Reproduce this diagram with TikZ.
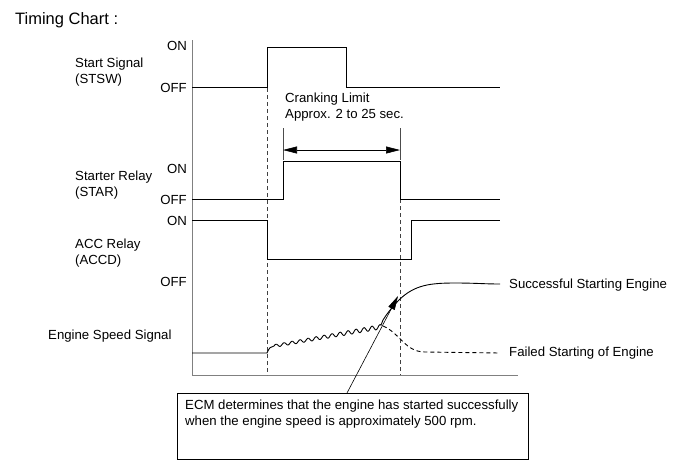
\documentclass[tikz,border=0pt]{standalone}
\usepackage{fontspec}
\setmainfont{Liberation Sans}
\usetikzlibrary{arrows.meta}
\begin{document}
\begin{tikzpicture}[x=1pt,y=-1pt,
  sig/.style={line width=0.9pt, black},
  ax/.style={line width=0.9pt, black!50},
  dsh/.style={dash pattern=on 4pt off 3pt, line width=0.7pt, black!75},
  lbl/.style={font=\fontsize{13.2}{15.5}\selectfont, inner sep=0pt, align=left},
  lvl/.style={font=\fontsize{13.2}{15.5}\selectfont, inner sep=0pt, anchor=east}]
\useasboundingbox (0,0) rectangle (691,467);

% title
\node[lbl, anchor=west, font=\fontsize{16.5}{19}\selectfont] (title) at (15,20) {Timing Chart :};

% left labels
\node[lbl, anchor=west] (stsw) at (75,72) {Start Signal\\(STSW)};
\node[lbl, anchor=west] (star) at (75,185) {Starter Relay\\(STAR)};
\node[lbl, anchor=west] (accd) at (75,253) {ACC Relay\\(ACCD)};
\node[lbl, anchor=west] (eng) at (48,336) {Engine Speed Signal};

\node[lvl] (on1) at (187,46) {ON};
\node[lvl] (off1) at (187,88) {OFF};
\node[lvl] (on2) at (187,169) {ON};
\node[lvl] (off2) at (187,200) {OFF};
\node[lvl] (on3) at (187,221) {ON};
\node[lvl] (off3) at (187,282) {OFF};

% axes
\draw[ax] (192,40) -- (192,375) -- (518,375);

% dashed guides
\draw[dsh] (267,88) -- (267,375);
\draw[dsh] (400,199) -- (400,375);

% start signal
\draw[sig] (192,87) -- (267,87) -- (267,47) -- (346,47) -- (346,87) -- (500,87);
% starter relay
\draw[sig] (192,199) -- (283,199) -- (283,161) -- (400,161) -- (400,199) -- (500,199);
% ACC relay
\draw[sig] (192,220) -- (267,220) -- (267,259) -- (411,259) -- (411,220) -- (500,220);

% cranking limit
\node[lbl, anchor=west] (crank) at (285,107) {Cranking Limit\\Approx. 2 to 25 sec.};
\draw[line width=0.6pt, black!70] (283,128) -- (283,160);
\draw[line width=0.6pt, black!70] (400,128) -- (400,160);
\draw[line width=0.6pt, {Triangle[length=14pt,width=7pt]}-{Triangle[length=14pt,width=7pt]}] (283,150) -- (400,150);

% engine speed
\draw[sig] (192,353) -- (267,353)
  .. controls (269,348) and (271,346) .. (274,346)
  -- plot[domain=274:381, samples=300, smooth] (\x, {346 - (\x-274)*0.18 - (1.4+0.008*(\x-274))*sin(45*(\x-274))})
  -- (383,320)
  .. controls (388,312) and (394,305) .. (400,299)
  .. controls (415,285) and (430,283) .. (455,283)
  .. controls (475,283) and (485,284) .. (500,284);
\draw[sig, dash pattern=on 4pt off 3pt] (383,326)
  .. controls (400,333) and (405,352) .. (425,352) -- (500,353);

\node[lbl, anchor=west] (succ) at (509,285) {Successful Starting Engine};
\node[lbl, anchor=west] (fail) at (509,353) {Failed Starting of Engine};

% note box
\node[draw, line width=0.8pt, anchor=north west, minimum width=351pt, minimum height=66pt, inner sep=0pt] (box) at (177,393) {};
\node[lbl, anchor=north west] (note) at (185,400) {ECM determines that the engine has started successfully\\when the engine speed is approximately 500 rpm.};
\coordinate (tip) at (398,296);
\draw[line width=0.6pt, -{Triangle[length=14pt,width=7pt]}] (box.north west) ++(170,0) -- (tip);
\end{tikzpicture}
\end{document}
